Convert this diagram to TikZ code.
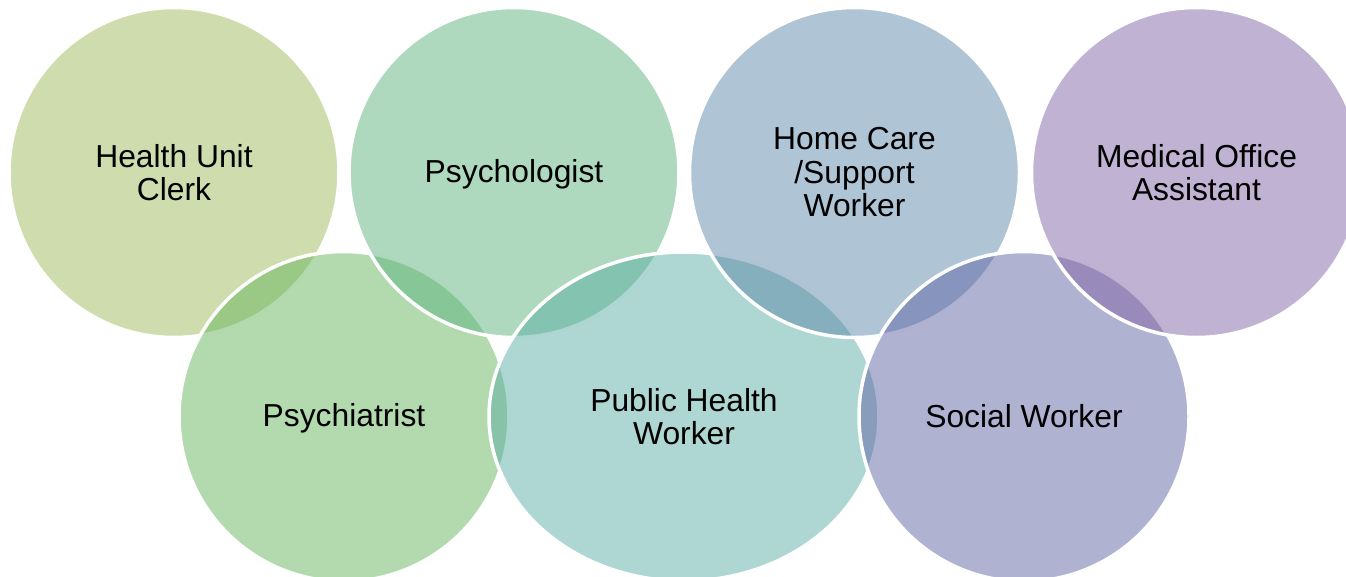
\documentclass[tikz,border=0pt]{standalone}
\usepackage{fontspec}
\setmainfont{Liberation Sans}
\usetikzlibrary{shapes.geometric}
\definecolor{cHUC}{RGB}{159,187,93}
\definecolor{cPSA}{RGB}{103,181,95}
\definecolor{cPSO}{RGB}{93,179,125}
\definecolor{cPHW}{RGB}{93,173,165}
\definecolor{cHCW}{RGB}{95,137,171}
\definecolor{cSOW}{RGB}{97,101,165}
\definecolor{cMOA}{RGB}{129,101,165}
\begin{document}
\begin{tikzpicture}[x=1pt,y=-1pt,
  bub/.style={circle, minimum size=330pt, inner sep=0pt, draw=white, line width=3.5pt,
    fill opacity=0.5, text opacity=1, draw opacity=1, align=center, text=black,
    font=\fontsize{31.8}{33.5}\selectfont},
  oval/.style={bub, ellipse, minimum width=390pt, minimum height=329pt}]
\clip (0,0) rectangle (1346,576);
\node[bub, fill=cHUC] (huc) at (174,172.5) {Health Unit\\Clerk};
\node[bub, fill=cPSA, text depth=3pt] (psa) at (344,416.5) {Psychiatrist};
\node[bub, fill=cPSO, text depth=3pt] (pso) at (514,172.5) {Psychologist};
\node[oval, fill=cPHW] (phw) at (684,416.5) {Public Health\\Worker};
\node[bub, fill=cHCW] (hcw) at (854.5,172.5) {Home Care\\/Support\\Worker};
\node[bub, fill=cSOW] (sow) at (1024,416.5) {Social Worker};
\node[bub, fill=cMOA] (moa) at (1196.5,172.5) {Medical Office\\Assistant};
\end{tikzpicture}
\end{document}
